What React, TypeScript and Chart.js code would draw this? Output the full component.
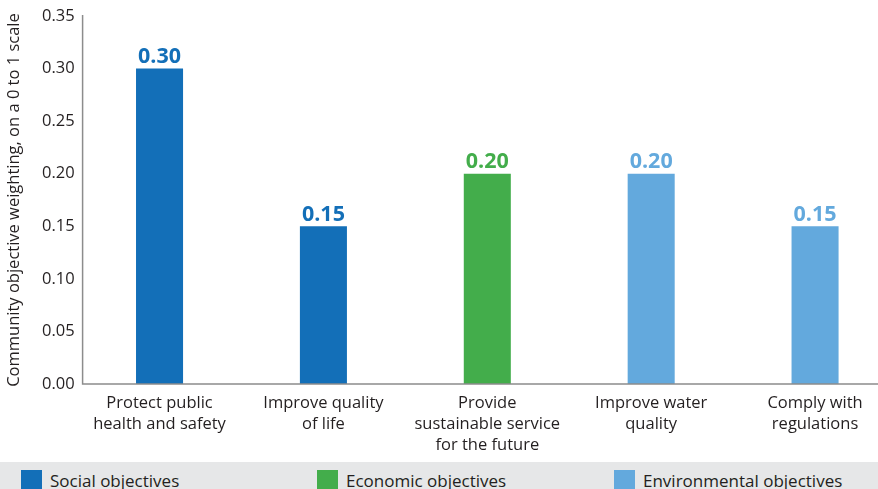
import React, { useEffect, useRef } from "react";
import { Chart, registerables } from "chart.js";

Chart.register(...registerables);

const categories: string[][] = [
  ["Protect public", "health and safety"],
  ["Improve quality", "of life"],
  ["Provide", "sustainable service", "for the future"],
  ["Improve water", "quality"],
  ["Comply with", "regulations"],
];
const socialValues = [0.3, 0.15, null, null, null];
const economicValues = [null, null, 0.2, null, null];
const environmentalValues = [null, null, null, 0.2, 0.15];
const seriesNames = ["Social objectives", "Economic objectives", "Environmental objectives"];
const seriesColors = ["#136fb8", "#43ad4b", "#63a9dd"];
const yTitle = "Community objective weighting, on a 0 to 1 scale";

const FONT = "'Open Sans', Lato, sans-serif";
const TEXT = "#231f20";

const valueLabels = {
  id: "valueLabels",
  afterDatasetsDraw(chart: any) {
    const ctx = chart.ctx;
    ctx.save();
    ctx.font = `bold 21.5px ${FONT}`;
    ctx.textAlign = "center";
    ctx.textBaseline = "alphabetic";
    chart.data.datasets.forEach((ds: any, di: number) => {
      const meta = chart.getDatasetMeta(di);
      meta.data.forEach((el: any, i: number) => {
        const v = ds.data[i];
        if (v == null) return;
        ctx.fillStyle = ds.backgroundColor;
        ctx.fillText(v.toFixed(2), el.x, el.y - 5.5);
      });
    });
    ctx.restore();
  },
};

const axisLines = {
  id: "axisLines",
  afterDraw(chart: any) {
    const { ctx, chartArea } = chart;
    const x0 = chartArea.left + 5;
    ctx.save();
    ctx.strokeStyle = "#8c8c8c";
    ctx.lineWidth = 1.5;
    ctx.beginPath();
    ctx.moveTo(x0, chartArea.top - 1);
    ctx.lineTo(x0, chartArea.bottom);
    ctx.lineTo(chartArea.right, chartArea.bottom);
    ctx.stroke();
    ctx.restore();
  },
};

export default function App() {
  const ref = useRef<HTMLCanvasElement>(null);
  useEffect(() => {
    if (!ref.current) return;
    const datasets = [socialValues, economicValues, environmentalValues].map((d, i) => ({
      label: seriesNames[i],
      data: d,
      backgroundColor: seriesColors[i],
      barPercentage: 0.287,
      categoryPercentage: 1,
    }));
    const chart = new Chart(ref.current, {
      type: "bar",
      data: { labels: categories as any, datasets: datasets as any },
      options: {
        animation: false,
        responsive: false,
        maintainAspectRatio: false,
        layout: { padding: { top: 16, right: 0, left: 0, bottom: 0 } },
        plugins: { legend: { display: false }, tooltip: { enabled: false } },
        scales: {
          x: {
            stacked: true,
            grid: { display: false, drawTicks: false },
            border: { display: false },
            ticks: {
              color: TEXT,
              font: { family: FONT, size: 16.5, lineHeight: 1.27 },
              padding: 9,
              maxRotation: 0,
              autoSkip: false,
            },
            afterFit(scale: any) {
              scale.height = 78;
            },
          },
          y: {
            stacked: true,
            min: 0,
            max: 0.35,
            grid: { display: false, drawTicks: false },
            border: { display: false },
            ticks: {
              stepSize: 0.05,
              color: TEXT,
              font: { family: FONT, size: 16.5 },
              padding: 3,
              callback: (v: any) => Number(v).toFixed(2),
            },
            title: {
              display: true,
              text: yTitle,
              color: TEXT,
              font: { family: FONT, size: 16.5 },
              padding: { top: 4, bottom: 0 },
            },
            afterFit(scale: any) {
              scale.width = 77.6;
            },
          },
        },
      },
      plugins: [valueLabels, axisLines],
    });
    return () => chart.destroy();
  }, []);

  return (
    <div
      style={{
        position: "fixed",
        left: 0,
        top: 0,
        width: 878,
        height: 489,
        overflow: "hidden",
        background: "#fff",
        fontFamily: FONT,
      }}
    >
      <canvas ref={ref} width={897} height={462} style={{ position: "absolute", left: 0, top: 0, width: 897, height: 462 }} />
      <div
        style={{
          position: "absolute",
          left: 0,
          top: 462,
          width: 878,
          height: 40,
          background: "#e6e7e8",
        }}
      >
        {seriesNames.map((n, i) => (
          <div key={n} style={{ position: "absolute", left: [21, 317, 614][i], top: 8, height: 21, display: "flex", alignItems: "center" }}>
            <div style={{ width: 21, height: 21, background: seriesColors[i] }} />
            <span style={{ marginLeft: 8, fontSize: 17, color: TEXT, whiteSpace: "nowrap" }}>{n}</span>
          </div>
        ))}
      </div>
    </div>
  );
}
